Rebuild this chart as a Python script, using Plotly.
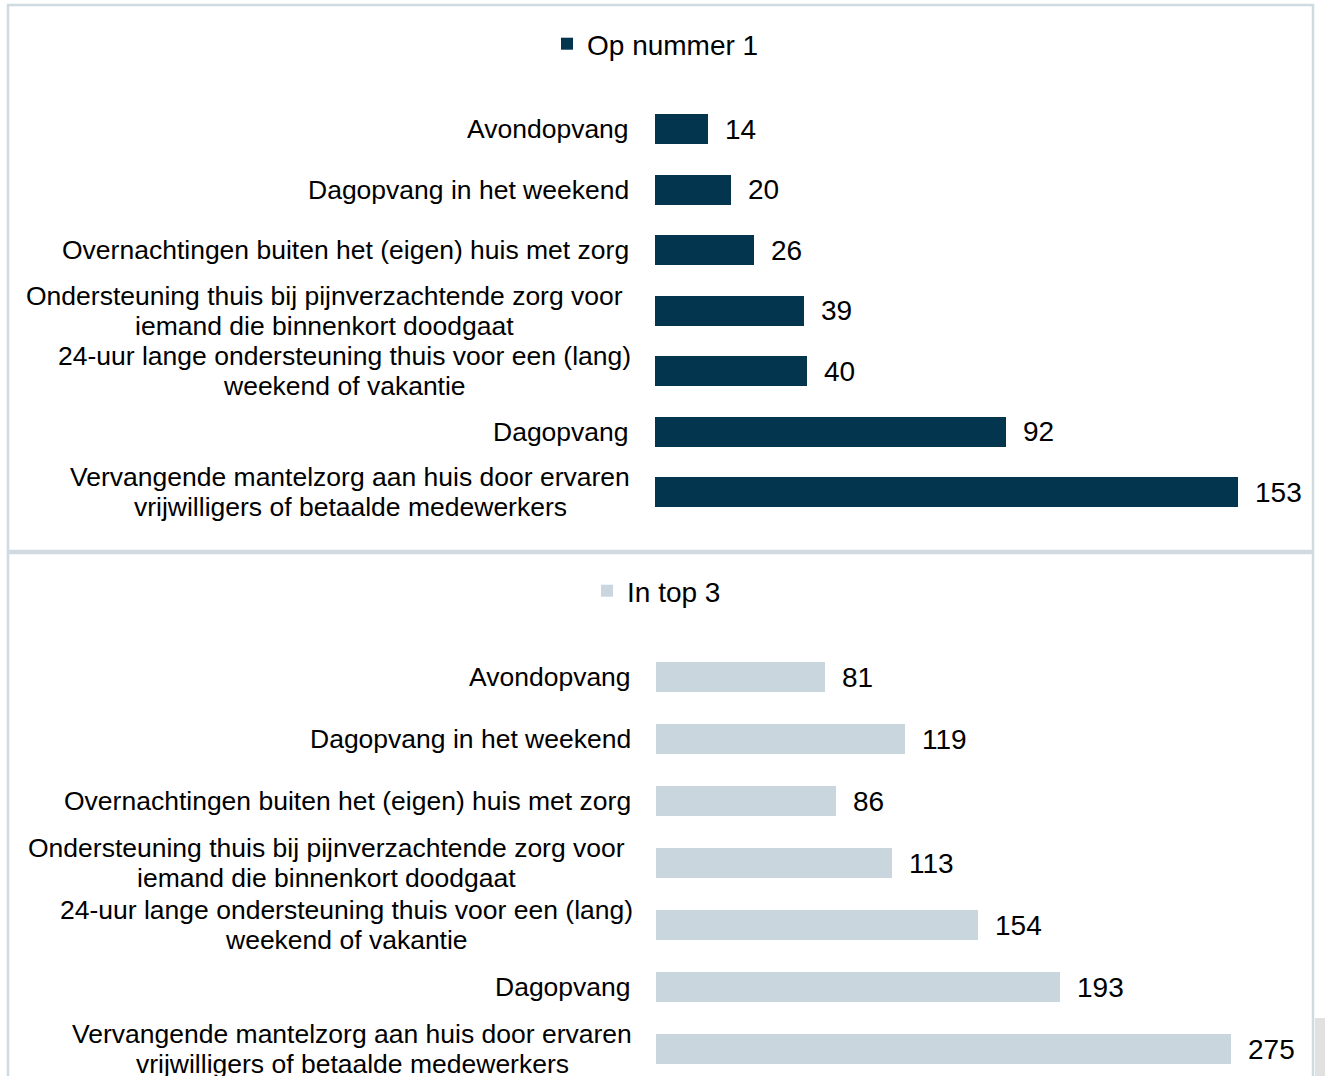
import plotly.graph_objects as go

categories = [
    "Avondopvang",
    "Dagopvang in het weekend",
    "Overnachtingen buiten het (eigen) huis met zorg",
    "Ondersteuning thuis bij pijnverzachtende zorg voor<br>iemand die binnenkort doodgaat",
    "24-uur lange ondersteuning thuis voor een (lang)<br>weekend of vakantie",
    "Dagopvang",
    "Vervangende mantelzorg aan huis door ervaren<br>vrijwilligers of betaalde medewerkers",
]
op_nummer_1 = [14, 20, 26, 39, 40, 92, 153]
in_top_3 = [81, 119, 86, 113, 154, 193, 275]

series_names = ["Op nummer 1", "In top 3"]
dark = "#03354f"
light = "#c9d6dd"
border = "#cfdbe1"
FONT = "Liberation Sans, Arial, sans-serif"
W, H = 1325, 1076
LABEL_SIZE = 26.5
VALUE_SIZE = 28
# extra left offset (px) of wrapped label blocks, as in the reference
label_inset = {3: 8}

# Arial / Liberation Sans advance widths (per 1000 em)
_AW = {" ": 278, "(": 333, ")": 333, "-": 333, "2": 556, "4": 556,
       "a": 556, "b": 556, "c": 500, "d": 556, "e": 556, "f": 278, "g": 556, "h": 556,
       "i": 222, "j": 222, "k": 500, "l": 222, "m": 833, "n": 556, "o": 556, "p": 556,
       "q": 556, "r": 333, "s": 500, "t": 278, "u": 556, "v": 500, "w": 722, "x": 500,
       "y": 500, "z": 500, "A": 667, "D": 722, "O": 778, "V": 667}


def text_w(s, size):
    return sum(_AW.get(c, 556) for c in s) * size / 1000.0


def px_x(p):
    return p / W


def px_y(p):
    return 1 - p / H


def label_annotations(cat, yref, right_px):
    lines = cat.split("<br>")
    out = []
    if len(lines) == 1:
        out.append(dict(x=px_x(right_px), xref="paper", y=cat, yref=yref, text=cat,
                        xanchor="right", yanchor="middle", showarrow=False,
                        font=dict(size=LABEL_SIZE, color="#000", family=FONT)))
        return out
    maxw = max(text_w(l, LABEL_SIZE) for l in lines)
    cx = right_px - maxw / 2
    n = len(lines)
    for i, line in enumerate(lines):
        out.append(dict(x=px_x(cx), xref="paper", y=cat, yref=yref, text=line,
                        xanchor="center", yanchor="middle", showarrow=False,
                        yshift=((n - 1) / 2 - i) * 30,
                        font=dict(size=LABEL_SIZE, color="#000", family=FONT)))
    return out


fig = go.Figure()
fig.add_trace(go.Bar(y=categories, x=op_nummer_1, orientation="h", name=series_names[0],
                     marker=dict(color=dark, line=dict(width=0)), width=0.5,
                     xaxis="x", yaxis="y", legend="legend", hoverinfo="x+y"))
fig.add_trace(go.Bar(y=categories, x=in_top_3, orientation="h", name=series_names[1],
                     marker=dict(color=light, line=dict(width=0)), width=0.48,
                     xaxis="x2", yaxis="y2", legend="legend2", hoverinfo="x+y"))

annotations = []
for i, (cat, v) in enumerate(zip(categories, op_nummer_1)):
    annotations += label_annotations(cat, "y", 631 - label_inset.get(i, 0))
    annotations.append(dict(x=v, xref="x", y=cat, yref="y", text=str(v), xanchor="left",
                            yanchor="middle", xshift=15, showarrow=False,
                            font=dict(size=VALUE_SIZE, color="#000", family=FONT)))
for i, (cat, v) in enumerate(zip(categories, in_top_3)):
    annotations += label_annotations(cat, "y2", 633 - label_inset.get(i, 0))
    annotations.append(dict(x=v, xref="x2", y=cat, yref="y2", text=str(v), xanchor="left",
                            yanchor="middle", xshift=15, showarrow=False,
                            font=dict(size=VALUE_SIZE, color="#000", family=FONT)))

shapes = [
    dict(type="rect", xref="paper", yref="paper", x0=px_x(8), x1=px_x(1313), y0=px_y(551), y1=px_y(5),
         line=dict(color=border, width=2.5), layer="below"),
    dict(type="rect", xref="paper", yref="paper", x0=px_x(8), x1=px_x(1313), y0=px_y(1090), y1=px_y(553),
         line=dict(color=border, width=2.5), layer="below"),
    dict(type="rect", xref="paper", yref="paper", x0=px_x(1315), x1=px_x(1330), y0=px_y(1080), y1=px_y(1018),
         fillcolor="#e1e1e1", line=dict(width=0), layer="below"),
]

fig.update_layout(
    width=W, height=H,
    margin=dict(l=0, r=0, t=0, b=0),
    paper_bgcolor="white", plot_bgcolor="white",
    font=dict(family=FONT, color="#000"),
    showlegend=True,
    xaxis=dict(domain=[655 / W, 1313 / W], range=[0, 658 / 3.81], visible=False, fixedrange=True),
    yaxis=dict(domain=[px_y(522.25), px_y(98.75)], range=[6.5, -0.5], categoryorder="array",
               categoryarray=categories, showticklabels=False, showgrid=False, zeroline=False,
               ticks="", anchor="x"),
    xaxis2=dict(domain=[656 / W, 1313 / W], range=[0, 657 / 2.0909], visible=False, anchor="y2",
                fixedrange=True),
    yaxis2=dict(domain=[0, px_y(646)], range=[6.5 - 4 / 62, -0.5], categoryorder="array",
                categoryarray=categories, showticklabels=False, showgrid=False, zeroline=False,
                ticks="", anchor="x2"),
    legend=dict(x=0.5 - 7 / W, xanchor="center", y=px_y(44), yanchor="middle", orientation="h",
                font=dict(size=28, family=FONT, color="#000"), bgcolor="rgba(0,0,0,0)",
                itemwidth=30),
    legend2=dict(x=0.5 - 6 / W, xanchor="center", y=px_y(591), yanchor="middle", orientation="h",
                 font=dict(size=28, family=FONT, color="#000"), bgcolor="rgba(0,0,0,0)",
                 itemwidth=30),
    annotations=annotations,
    shapes=shapes,
    bargap=0,
)

fig.write_html("out.html", config={"displayModeBar": False},
               post_script="document.body.style.margin='0';document.body.style.overflow='hidden';")
